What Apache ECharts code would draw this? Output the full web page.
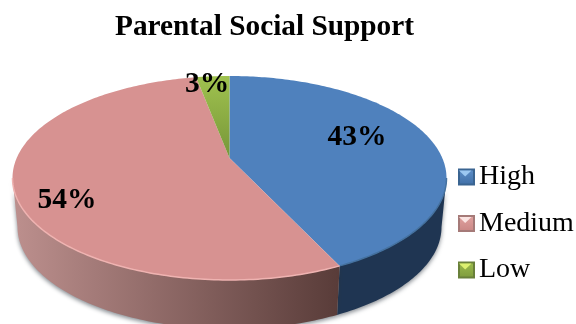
<!DOCTYPE html>
<html>
<head>
<meta charset="utf-8">
<script src="https://cdn.jsdelivr.net/npm/echarts@6/dist/echarts.min.js"></script>
<style>html,body{margin:0;padding:0;background:#fff}#c{width:576px;height:324px}</style>
</head>
<body>
<div id="c"></div>
<script>
const categories = ['High', 'Medium', 'Low'];
const shares = [43, 54, 3];
const total = shares.reduce((a, b) => a + b, 0);

// Perspective disc: top rim ellipse, lower rim ellipse, and the tilt that moves the hub upward.
const TOP = { cx: 229.5, cy: 178, rx: 217, ry: 102 };
const BASE = { cx: 229.5, cy: 227, rx: 212, ry: 102 };
const TILT = 0.196;
const FONT = '"Liberation Serif","Times New Roman",serif';

function project(theta, ring, r) {
  const u = r * Math.sin(theta), v = -r * Math.cos(theta);
  const d = 1 - TILT * v;
  return [
    ring.cx + ring.rx * u * Math.sqrt(1 - TILT * TILT) / d,
    ring.cy + ring.ry * (v - TILT) / d
  ];
}
function arc(a, b, ring) {
  const pts = [], n = Math.max(2, Math.ceil(Math.abs(b - a) * 60));
  for (let i = 0; i <= n; i++) pts.push(project(a + (b - a) * i / n, ring, 1));
  return pts;
}
const gradient = (x, y, x2, y2, c0, c1, global) =>
  new echarts.graphic.LinearGradient(x, y, x2, y2, [{ offset: 0, color: c0 }, { offset: 1, color: c1 }], global);

// The rim is widest where the projected height crosses the ellipse centre.
const sideAngle = Math.acos(-TILT);

function sliceRenderer(index, look) {
  const before = shares.slice(0, index).reduce((a, b) => a + b, 0);
  return function (params, api) {
    const value = api.value(0);
    const a = before / total * 2 * Math.PI;
    const b = (before + value) / total * 2 * Math.PI;
    const children = [];

    // Outer wall: only the part of the slice facing the viewer.
    const wa = Math.max(a, sideAngle), wb = Math.min(b, 2 * Math.PI - sideAngle);
    if (wb > wa) {
      const wall = arc(wa, wb, TOP).concat(arc(wa, wb, BASE).reverse());
      children.push({
        type: 'polygon', shape: { points: wall },
        style: {
          fill: look.wall(),
          shadowBlur: 4, shadowOffsetY: 2, shadowColor: 'rgba(40,50,60,0.55)'
        }
      });
    }
    // Top face.
    const rim = arc(a, b, TOP);
    const hub = project(0, TOP, 0);
    children.push({
      type: 'polygon', shape: { points: [hub].concat(rim) },
      style: { fill: look.face }
    });
    // Bevel along the near rim.
    if (wb > wa) {
      children.push({
        type: 'polyline', shape: { points: arc(wa, wb, TOP) },
        style: { fill: null, stroke: look.bevel, lineWidth: 1.5 }
      });
    }
    children.push({
      type: 'text', z2: 10,
      style: {
        text: value + '%', x: look.label[0], y: look.label[1],
        fill: '#000', align: 'center', verticalAlign: 'middle',
        font: 'bold 29.5px ' + FONT
      }
    });
    return { type: 'group', children };
  };
}

const looks = [
  {
    swatch: ['#5f90ca', '#3f6ea6'], edge: '#3a6491', glint: '#9cc8f2', face: '#4f81bd', bevel: '#44719f', label: [357, 137],
    wall: () => '#1f3552'
  },
  {
    swatch: ['#e2a3a1', '#c98684'], edge: '#a57a78', glint: '#fbe4e2', face: '#d79291', bevel: '#efb3b1', label: [67, 200],
    wall: () => gradient(12, 0, 338, 0, '#bd908e', '#593c39', true)
  },
  {
    swatch: ['#9dbd4e', '#7d9a3c'], edge: '#69803a', glint: '#dcf070', label: [207, 84], bevel: '#9bbb59',
    face: gradient(0, 0, 0, 1, '#a0c24f', '#769638'),
    wall: () => '#5f7530'
  }
];

const series = categories.map((name, i) => ({
  type: 'custom',
  name,
  coordinateSystem: 'none',
  data: [[shares[i]]],
  renderItem: sliceRenderer(i, looks[i]),
  itemStyle: {
    color: gradient(0, 0, 0, 1, looks[i].swatch[0], looks[i].swatch[1]),
    borderColor: looks[i].edge, borderWidth: 1
  },
  animation: false,
  silent: true
}));

// Small highlight wedge on each legend key.
const KEY_ROWS = [176.5, 223, 269.5];
const glints = KEY_ROWS.map((y, i) => ({
  type: 'polygon', z: 100,
  shape: { points: [[459, y - 6], [471.5, y - 6], [465.2, y]] },
  style: { fill: looks[i].glint }
}));

const chart = echarts.init(document.getElementById('c'), null, { renderer: 'canvas' });
chart.setOption({
  animation: false,
  backgroundColor: '#fff',
  title: {
    text: 'Parental Social Support',
    left: 259.5, top: 8, textAlign: 'center',
    textStyle: { fontFamily: FONT, fontWeight: 'bold', fontSize: 29.3, color: '#000' }
  },
  legend: {
    orient: 'vertical', left: 458, top: 161,
    itemWidth: 15, itemHeight: 15, itemGap: 14.5, padding: 0,
    icon: 'rect',
    data: categories,
    textStyle: { fontFamily: FONT, fontSize: 28, color: '#000', padding: [0, 0, 0, 0], lineHeight: 32 },
    selectedMode: false
  },
  graphic: glints,
  series
});
</script>
</body>
</html>
